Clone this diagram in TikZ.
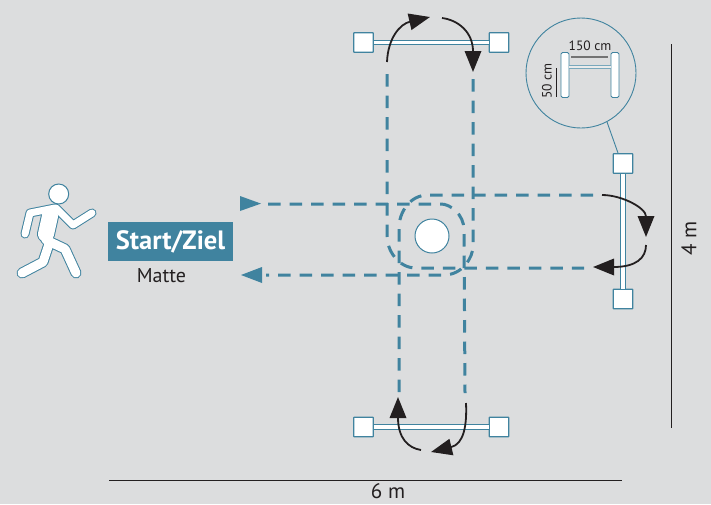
\documentclass[tikz,border=0pt]{standalone}
\usepackage{fontspec}
\setmainfont{PT Sans}
\usetikzlibrary{arrows.meta}
\definecolor{bgc}{HTML}{DCDDDE}
\definecolor{tealc}{HTML}{40839F}
\definecolor{inkc}{HTML}{231F20}
\tikzset{
  post/.style={draw=tealc,fill=white,line width=1.2pt,minimum size=19.5pt,inner sep=0pt,rounded corners=0.5pt},
  barlink/.style={draw=tealc,line width=1.1pt,double=white,double distance=3.4pt},
  route/.style={draw=tealc,line width=3pt,dash pattern=on 12.5pt off 9pt},
  turn/.style={draw=inkc,line width=1.8pt,-{Triangle[length=21pt,width=16.5pt]}},
  dimline/.style={draw=inkc,line width=0.9pt},
  limb/.style={line width=#1,line cap=round,line join=round},
  label/.style={text=inkc,inner sep=0pt},
}
\begin{document}
\begin{tikzpicture}[x=1pt,y=-1pt]
\path[use as bounding box,fill=bgc] (0,0) rectangle (711,504);

% route coordinates
\coordinate (r1s) at (268,204);
\coordinate (r1e) at (465,393);
\coordinate (r2s) at (399,392);
\coordinate (r2e) at (597,195);
\coordinate (r3s) at (387,74);
\coordinate (r3e) at (584,268);
\coordinate (r4s) at (473,79);
\coordinate (r4e) at (266,275);

\draw[route] (r1s) -- (441,204) .. controls (450,204) and (464,214) .. (464,230) -- (r1e);
\draw[route] (r2s) -- (399,228) .. controls (399,212) and (410,195) .. (428,195) -- (r2e);
\draw[route] (r3s) -- (387,236) .. controls (387,250) and (398,268) .. (416,268) -- (r3e);
\draw[route] (r4s) -- (473,246) .. controls (473,258) and (462,275) .. (444,275) -- (r4e);

% start arrowheads
\fill[tealc] (240,196) -- (261,203.6) -- (240,211) -- cycle;
\fill[tealc] (241,275) -- (262,267) -- (262,283) -- cycle;

% top bar
\node[post] (tl) at (363.5,42.5) {};
\node[post] (tr) at (499,42.5) {};
\draw[barlink] (tl) -- (tr);
% bottom bar
\node[post] (bl) at (363.5,427) {};
\node[post] (br) at (499,427) {};
\draw[barlink] (bl) -- (br);
% right bar
\node[post] (rt) at (623,163.5) {};
\node[post] (rb) at (623,299) {};
\draw[barlink] (rt) -- (rb);

% centre marker
\node[draw=tealc,fill=white,circle,line width=1pt,minimum size=34pt,inner sep=0pt] (centre) at (432,236) {};

% turn arrows
\coordinate (a1s) at (387,62);  \coordinate (a1e) at (430,17);
\coordinate (a2s) at (442,18);  \coordinate (a2e) at (473,72);
\coordinate (a3s) at (602,195); \coordinate (a3e) at (646,237);
\coordinate (a4s) at (646,245); \coordinate (a4e) at (593,267);
\coordinate (a5s) at (421,450); \coordinate (a5e) at (398,397);
\coordinate (a6s) at (466,403); \coordinate (a6e) at (431,452);
\draw[turn] (a1s) .. controls (388,38) and (400,24) .. (a1e);
\draw[turn] (a2s) .. controls (458,20) and (473,32) .. (a2e);
\draw[turn] (a3s) .. controls (622,195) and (646,208) .. (a3e);
\draw[turn] (a4s) .. controls (646,258) and (636,267) .. (a4e);
\draw[turn] (a5s) .. controls (408,448) and (398,438) .. (a5e);
\draw[turn] (a6s) .. controls (467,425) and (464,444) .. (a6e);

% start mat
\node[fill=tealc,text=white,minimum width=125pt,minimum height=39pt,inner sep=0pt,font=\bfseries\fontsize{26.5}{28}\selectfont] (mat) at (170.5,241.5) {Start/Ziel};
\node[label,font=\fontsize{20}{22}\selectfont] (matte) at (161.5,275.5) {Matte};

% runner
\foreach \c/\o in {tealc/2,white/0}{
  \begin{scope}[draw=\c,fill=\c]
    \draw[limb=\o pt+7pt] (55,208) -- (30,213) -- (25,234);
    \draw[limb=\o pt+7pt] (56,208) -- (73,225) -- (92,213);
    \draw[limb=\o pt+16pt] (50,216) -- (46,234);
    \draw[limb=\o pt+9pt] (46,240) -- (65,249) -- (76,273);
    \draw[limb=\o pt+9pt] (49,244) -- (43,262) -- (22,273);
  \end{scope}
}
\node[draw=tealc,fill=white,circle,line width=1pt,minimum size=20pt,inner sep=0pt] (head) at (58.7,194) {};

% inset
\node[draw=tealc,circle,line width=0.9pt,minimum size=110pt,inner sep=0pt] (lens) at (581,73) {};
\coordinate (lensfoot) at (618,153);
\draw[tealc,line width=0.9pt] (607,122) -- (lensfoot);
\node[draw=tealc,fill=white,line width=0.9pt,minimum width=8pt,minimum height=45pt,inner sep=0pt,rounded corners=1.5pt] (pl) at (565,75) {};
\node[draw=tealc,fill=white,line width=0.9pt,minimum width=8pt,minimum height=45pt,inner sep=0pt,rounded corners=1.5pt] (pr) at (615,75) {};
\draw[draw=tealc!70,line width=0.6pt,double=bgc!60!white,double distance=2.4pt] (pl.east |- 0,67) -- (pr.west |- 0,67);
\coordinate (g1) at (571,57); \coordinate (g2) at (608,57);
\draw[draw=black!55,line width=1.4pt] (g1) -- (g2);
\coordinate (h1) at (556,68); \coordinate (h2) at (556,97);
\draw[dimline,line width=0.7pt] (h1) -- (h2);
\node[label,font=\fontsize{13.5}{15}\selectfont] (w150) at (590,46) {150 cm};
\node[label,rotate=90,font=\fontsize{13.5}{15}\selectfont] (h50) at (547,81) {50 cm};

% overall dimensions
\coordinate (d1) at (109,480); \coordinate (d2) at (622,480);
\draw[dimline] (d1) -- (d2);
\coordinate (d3) at (671,44); \coordinate (d4) at (671,428);
\draw[dimline] (d3) -- (d4);
\node[label,font=\fontsize{21}{23}\selectfont] (six) at (388,491.5) {6 m};
\node[label,rotate=90,font=\fontsize{21}{23}\selectfont] (four) at (689,238) {4 m};
\end{tikzpicture}
\end{document}
